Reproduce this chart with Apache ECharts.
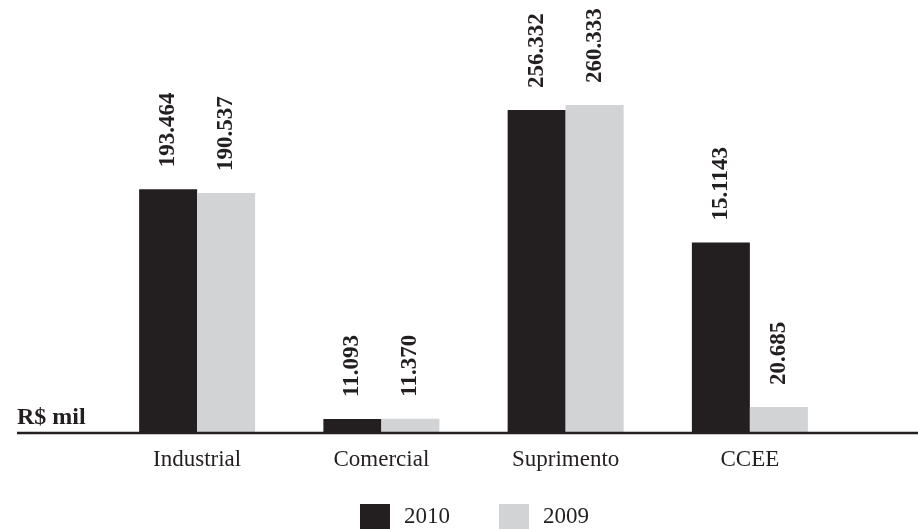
<!DOCTYPE html>
<html>
<head>
<meta charset="utf-8">
<script src="https://cdn.jsdelivr.net/npm/echarts@6/dist/echarts.min.js"></script>
<style>
  html, body { margin: 0; padding: 0; background: #ffffff; }
  #chart { width: 918px; height: 529px; }
</style>
</head>
<body>
<div id="chart"></div>
<script>
// Receita por segmento (R$ mil)
const categories = ['Industrial', 'Comercial', 'Suprimento', 'CCEE'];
const seriesNames = ['2010', '2009'];
const values2010 = [193.464, 11.093, 256.332, 151.143];
const values2009 = [190.537, 11.370, 260.333, 20.685];
const labels2010 = ['193.464', '11.093', '256.332', '15.1143'];
const labels2009 = ['190.537', '11.370', '260.333', '20.685'];

const FONT = "'Liberation Serif', 'Times New Roman', serif";
const INK = '#231f20';
const GREY = '#d1d3d4';

const chart = echarts.init(document.getElementById('chart'), null, { renderer: 'canvas' });

function barLabel(texts) {
  return {
    show: true,
    position: 'top',
    distance: 22,
    rotate: 90,
    align: 'left',
    verticalAlign: 'middle',
    fontFamily: FONT,
    fontSize: 23,
    fontWeight: 'bold',
    color: INK,
    formatter: p => texts[p.dataIndex]
  };
}

chart.setOption({
  animation: false,
  backgroundColor: '#ffffff',
  grid: { left: 105, right: 76, top: 55, bottom: 96 },
  legend: {
    left: 355,
    top: 499,
    itemWidth: 30,
    itemHeight: 26,
    itemGap: 49,
    icon: 'rect',
    data: seriesNames,
    textStyle: { fontFamily: FONT, fontSize: 23, color: INK, padding: [0, 0, 0, 9] }
  },
  xAxis: {
    type: 'category',
    data: categories,
    axisLine: { show: false },
    axisTick: { show: false },
    axisLabel: { fontFamily: FONT, fontSize: 23, color: INK, margin: 15 }
  },
  yAxis: {
    type: 'value',
    min: 0,
    max: 300,
    show: false,
    splitLine: { show: false }
  },
  series: [
    {
      name: seriesNames[0],
      type: 'bar',
      data: values2010,
      barWidth: 58,
      barGap: '0%',
      itemStyle: { color: INK },
      label: barLabel(labels2010)
    },
    {
      name: seriesNames[1],
      type: 'bar',
      data: values2009,
      barWidth: 58,
      barGap: '0%',
      itemStyle: { color: GREY },
      label: barLabel(labels2009)
    }
  ],
  graphic: [
    {
      type: 'line',
      z: 10,
      shape: { x1: 17, y1: 433, x2: 918, y2: 433 },
      style: { stroke: INK, lineWidth: 2.5 }
    },
    {
      type: 'text',
      x: 17,
      y: 417.5,
      style: {
        text: 'R$ mil',
        fontFamily: FONT,
        fontSize: 24,
        fontWeight: 'bold',
        fill: INK,
        verticalAlign: 'middle'
      }
    }
  ]
});
</script>
</body>
</html>
